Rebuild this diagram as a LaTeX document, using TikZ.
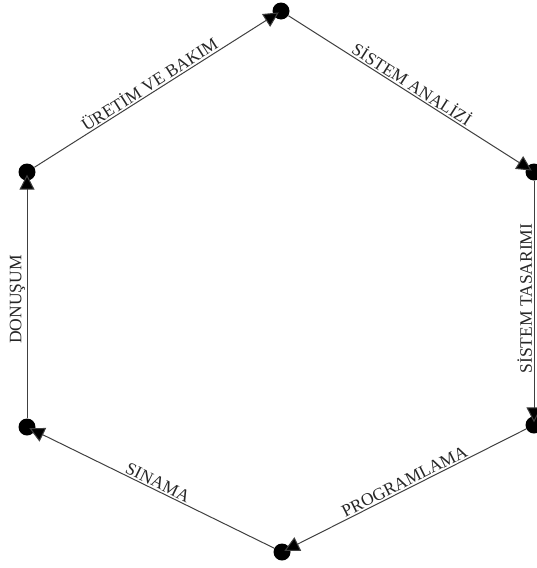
\documentclass[tikz,border=0pt]{standalone}
\usepackage{fontspec}
\setmainfont{Liberation Serif}
\usetikzlibrary{arrows.meta, positioning}

\begin{document}
\begin{tikzpicture}[x=1pt, y=-1pt,
    nokta/.style={circle, fill=black, minimum size=17pt, inner sep=0pt},
    kenar/.style={draw=black!75, line width=1pt, shorten >=-6pt,
        -{Triangle[length=15pt, width=15pt, fill=black]}},
    etiket/.style={font=\fontsize{17.5}{19}\selectfont, text=black!85, inner sep=1.5pt}]

    % ==========================================
    % 1. CERCEVE
    % ==========================================
    \useasboundingbox (0,0) rectangle (536,568);

    % ==========================================
    % 2. KOSELER (NOKTALAR)
    % ==========================================
    \node[nokta] (tepe)   at (281,11)  {};
    \node[nokta] (sagUst) at (534,172) {};
    \node[nokta] (sagAlt) at (534,425) {};
    \node[nokta] (dip)    at (282,552) {};
    \node[nokta] (solAlt) at (27,427)  {};
    \node[nokta] (solUst) at (27,172)  {};

    % ==========================================
    % 3. KENARLAR (OKLAR)
    % ==========================================
    \draw[kenar] (solUst) -- node[etiket, midway, above, rotate=32.4] {ÜRETİM VE BAKIM} (tepe);
    \draw[kenar] (tepe) -- node[etiket, midway, above, rotate=-32.5] {SİSTEM ANALİZİ} (sagUst);
    \draw[kenar] (sagUst) -- node[etiket, midway, above, rotate=90] {SİSTEM TASARIMI} (sagAlt);
    \draw[kenar] (sagAlt) -- node[etiket, midway, above, rotate=26.7] {PROGRAMLAMA} (dip);
    \draw[kenar] (dip) -- node[etiket, midway, above, rotate=-26.1] {SINAMA} (solAlt);
    \draw[kenar] (solAlt) -- node[etiket, midway, above, rotate=90] {DONUŞUM} (solUst);

\end{tikzpicture}
\end{document}
